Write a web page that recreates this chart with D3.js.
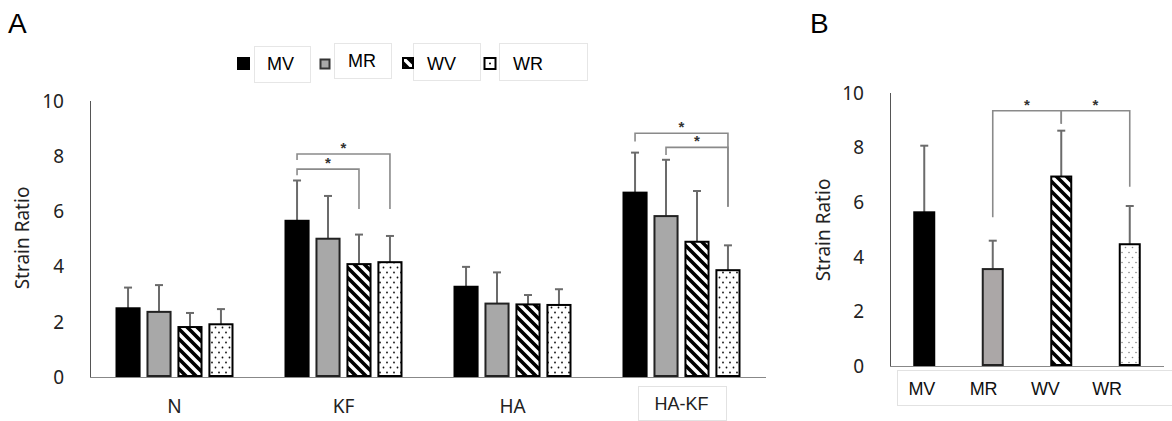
<!DOCTYPE html>
<html>
<head>
<meta charset="utf-8">
<script src="https://cdn.jsdelivr.net/npm/d3@7"></script>
<style>
  body { margin: 0; background: #ffffff; }
  svg { display: block; }
</style>
</head>
<body>
<div id="chart"></div>
<script>
// ---- data ----
const categories = ['N', 'KF', 'HA', 'HA-KF'];
const series = ['MV', 'MR', 'WV', 'WR'];

// panel A: mean strain ratio per category
const meanMV = [2.49, 5.66, 3.27, 6.68];
const meanMR = [2.36, 5.01, 2.66, 5.83];
const meanWV = [1.81, 4.09, 2.63, 4.90];
const meanWR = [1.91, 4.16, 2.61, 3.87];
// panel A: upper error (SD)
const sdMV = [0.75, 1.46, 0.72, 1.45];
const sdMR = [0.97, 1.55, 1.13, 2.04];
const sdWV = [0.51, 1.07, 0.34, 1.84];
const sdWR = [0.55, 0.95, 0.57, 0.90];

// panel B
const meanB = [5.63, 3.55, 6.94, 4.46];
const sdB = [2.44, 1.04, 1.68, 1.40];

const yTicks = [0, 2, 4, 6, 8, 10];

// significance brackets: top / leg ends in strain-ratio units
const sigA = [
  { cat: 'KF', a: 'MV', b: 'WR', top: 8.08, aEnd: 7.86, bEnd: 6.09 },
  { cat: 'KF', a: 'MV', b: 'WV', top: 7.53, aEnd: 7.31, bEnd: 6.09 },
  { cat: 'HA-KF', a: 'MV', b: 'WR', top: 8.83, aEnd: 8.53, bEnd: 6.17 },
  { cat: 'HA-KF', a: 'MR', b: 'WR', top: 8.32, aEnd: 8.04, bEnd: 6.17 }
];
const sigB = [
  { a: 'MR', b: 'WV', top: 9.35, aEnd: 5.45, bEnd: 8.87 },
  { a: 'WV', b: 'WR', top: 9.35, aEnd: 8.87, bEnd: 6.57 }
];

const meansA = [meanMV, meanMR, meanWV, meanWR];
const sdsA = [sdMV, sdMR, sdWV, sdWR];

// ---- setup ----
const W = 1172, H = 421;
const tickFont = '"Noto Sans", sans-serif';
const labelFont = '"Liberation Sans", Arial, sans-serif';

const svg = d3.select('#chart')
  .append('svg')
    .attr('width', W)
    .attr('height', H);

const defs = svg.append('defs');

// diagonal hatch (top-left to bottom-right)
const hatch = defs.append('pattern')
  .attr('id', 'hatch')
  .attr('patternUnits', 'userSpaceOnUse')
  .attr('width', 10)
  .attr('height', 10);
hatch.append('rect').attr('width', 10).attr('height', 10).attr('fill', '#fff');
hatch.append('path')
  .attr('d', 'M-5,5 L5,15 M0,0 L10,10 M5,-5 L15,5')
  .attr('stroke', '#000')
  .attr('stroke-width', 3.6);

// staggered dots
function dotPattern(id, color, r) {
  const p = defs.append('pattern')
    .attr('id', id)
    .attr('patternUnits', 'userSpaceOnUse')
    .attr('width', 7)
    .attr('height', 10);
  p.append('rect').attr('width', 7).attr('height', 10).attr('fill', '#fff');
  p.append('circle').attr('cx', 2).attr('cy', 2.5).attr('r', r).attr('fill', color);
  p.append('circle').attr('cx', 5.5).attr('cy', 7.5).attr('r', r).attr('fill', color);
}
dotPattern('dots', '#111', 0.9);
dotPattern('dotsB', '#888', 0.8);

const fillA = { MV: '#000000', MR: '#a8a8a8', WV: 'url(#hatch)', WR: 'url(#dots)' };
const fillB = { MV: '#000000', MR: '#aba7a7', WV: 'url(#hatch)', WR: 'url(#dotsB)' };
const strokeOf = { MV: '#000', MR: '#222', WV: '#000', WR: '#000' };

// ---- panel A ----
const yA = d3.scaleLinear().domain([0, 10]).range([377, 101]);
const xGroup = d3.scaleBand().domain(categories).range([90, 766]);
const xSub = d3.scaleBand().domain(series).range([-59, 59]).paddingInner(0.19);
const barX = (cat, s) => xGroup(cat) + xGroup.bandwidth() / 2 + xSub(s);
const barMid = (cat, s) => barX(cat, s) + xSub.bandwidth() / 2;

svg.append('text')
  .attr('x', 8).attr('y', 33)
  .style('font-family', labelFont)
  .style('font-size', '28px')
  .text('A');

// y axis line + tick labels (no tick marks)
svg.append('line')
  .attr('x1', 90.5).attr('x2', 90.5)
  .attr('y1', yA(10)).attr('y2', yA(0))
  .attr('stroke', '#555').attr('stroke-width', 1);

svg.append('g')
  .selectAll('text')
  .data(yTicks)
  .enter()
  .append('text')
    .attr('x', 64)
    .attr('y', d => yA(d))
    .attr('dy', '0.36em')
    .attr('text-anchor', 'end')
    .style('font-family', tickFont)
    .style('font-size', '19px')
    .style('fill', '#222')
    .text(d => d);

svg.append('text')
  .attr('transform', 'translate(29,238) rotate(-90)')
  .attr('text-anchor', 'middle')
  .style('font-family', tickFont)
  .style('font-size', '19px')
  .style('fill', '#222')
  .text('Strain Ratio');

// bars
const rowsA = [];
categories.forEach((cat, ci) => {
  series.forEach((s, si) => {
    rowsA.push({ cat: cat, s: s, mean: meansA[si][ci], sd: sdsA[si][ci] });
  });
});

// error bars (drawn under bars)
const errA = svg.append('g')
  .selectAll('g')
  .data(rowsA)
  .enter()
  .append('g')
    .attr('stroke', '#6b6b6b')
    .attr('stroke-width', 2);
errA.append('line')
  .attr('x1', d => barMid(d.cat, d.s)).attr('x2', d => barMid(d.cat, d.s))
  .attr('y1', d => yA(d.mean)).attr('y2', d => yA(d.mean + d.sd));
errA.append('line')
  .attr('x1', d => barMid(d.cat, d.s) - 4).attr('x2', d => barMid(d.cat, d.s) + 4)
  .attr('y1', d => yA(d.mean + d.sd)).attr('y2', d => yA(d.mean + d.sd));

svg.append('g')
  .selectAll('rect')
  .data(rowsA)
  .enter()
  .append('rect')
    .attr('x', d => barX(d.cat, d.s) + 1)
    .attr('y', d => yA(d.mean))
    .attr('width', xSub.bandwidth() - 2)
    .attr('height', d => yA(0) - yA(d.mean) - 1)
    .attr('fill', d => fillA[d.s])
    .attr('stroke', d => strokeOf[d.s])
    .attr('stroke-width', 2);

// baseline
svg.append('line')
  .attr('x1', 90).attr('x2', 766)
  .attr('y1', yA(0) + 0.5).attr('y2', yA(0) + 0.5)
  .attr('stroke', '#888').attr('stroke-width', 1.2);

// category labels
svg.append('g')
  .selectAll('text')
  .data(categories)
  .enter()
  .append('text')
    .attr('x', d => xGroup(d) + xGroup.bandwidth() / 2)
    .attr('y', d => d === 'HA-KF' ? 410 : 413)
    .attr('text-anchor', 'middle')
    .style('font-family', d => d === 'HA-KF' ? labelFont : tickFont)
    .style('font-size', d => d === 'HA-KF' ? '18px' : '19px')
    .style('fill', '#222')
    .text(d => d);

// text box round HA-KF
svg.append('rect')
  .attr('x', xGroup('HA-KF') + xGroup.bandwidth() / 2 - 43)
  .attr('y', 386.5)
  .attr('width', 88)
  .attr('height', 34)
  .attr('fill', 'none')
  .attr('stroke', '#e2e2e2');

// significance brackets A
function bracketPath(xa, xb, yTop, ya, yb) {
  return `M${xa},${ya} L${xa},${yTop} L${xb},${yTop} L${xb},${yb}`;
}
const sigGA = svg.append('g');
sigGA.selectAll('path')
  .data(sigA)
  .enter()
  .append('path')
    .attr('d', d => bracketPath(barMid(d.cat, d.a), barMid(d.cat, d.b),
                                yA(d.top), yA(d.aEnd), yA(d.bEnd)))
    .attr('fill', 'none')
    .attr('stroke', '#8a8a8a')
    .attr('stroke-width', 1.6);
sigGA.selectAll('text')
  .data(sigA)
  .enter()
  .append('text')
    .attr('x', d => (barMid(d.cat, d.a) + barMid(d.cat, d.b)) / 2)
    .attr('y', d => yA(d.top) - 1)
    .attr('text-anchor', 'middle')
    .style('font-family', labelFont)
    .style('font-size', '15px')
    .style('font-weight', 'bold')
    .style('fill', '#333')
    .text('*');

// legend (positions follow the figure's text boxes)
const legendLayout = [
  { sx: 237, sy: 57, ss: 13, bx: 254, by: 46, bw: 56, bh: 36, tx: 267, ty: 70 },
  { sx: 319.5, sy: 58.5, ss: 11, bx: 334, by: 43, bw: 57, bh: 35, tx: 348, ty: 67 },
  { sx: 402, sy: 57, ss: 12, bx: 413, by: 43, bw: 67, bh: 37, tx: 427, ty: 70 },
  { sx: 483.5, sy: 57, ss: 13, bx: 499, by: 43, bw: 88, bh: 37, tx: 513, ty: 70 }
];
const legend = svg.append('g')
  .selectAll('g')
  .data(series)
  .enter()
  .append('g');
legend.append('rect')
  .attr('x', (d, i) => legendLayout[i].bx + 0.5)
  .attr('y', (d, i) => legendLayout[i].by + 0.5)
  .attr('width', (d, i) => legendLayout[i].bw)
  .attr('height', (d, i) => legendLayout[i].bh)
  .attr('fill', '#fff')
  .attr('stroke', '#e6e6e6');
legend.append('rect')
  .attr('x', (d, i) => legendLayout[i].sx + 1)
  .attr('y', (d, i) => legendLayout[i].sy + 1)
  .attr('width', (d, i) => legendLayout[i].ss - 2)
  .attr('height', (d, i) => legendLayout[i].ss - 2)
  .attr('fill', d => d === 'WR' ? '#fff' : fillA[d])
  .attr('stroke', d => d === 'MR' ? '#333' : '#000')
  .attr('stroke-width', 2);
legend.filter(d => d === 'WR')
  .append('circle')
    .attr('cx', legendLayout[3].sx + 6.5)
    .attr('cy', legendLayout[3].sy + 6.5)
    .attr('r', 1)
    .attr('fill', '#000');
legend.append('text')
  .attr('x', (d, i) => legendLayout[i].tx)
  .attr('y', (d, i) => legendLayout[i].ty)
  .style('font-family', labelFont)
  .style('font-size', '18px')
  .style('fill', '#000')
  .text(d => d);

// ---- panel B ----
const yB = d3.scaleLinear().domain([0, 10]).range([366, 93]);
const xB = d3.scaleBand().domain(series).range([890, 1164]);
const xBLabel = d3.scaleBand().domain(series).range([891, 1138]);
const bw = 22;
const midB = s => xB(s) + xB.bandwidth() / 2;

svg.append('text')
  .attr('x', 810).attr('y', 33)
  .style('font-family', labelFont)
  .style('font-size', '28px')
  .text('B');

svg.append('line')
  .attr('x1', 890.5).attr('x2', 890.5)
  .attr('y1', yB(10)).attr('y2', yB(0))
  .attr('stroke', '#555').attr('stroke-width', 1);

svg.append('g')
  .selectAll('text')
  .data(yTicks)
  .enter()
  .append('text')
    .attr('x', 864)
    .attr('y', d => yB(d))
    .attr('dy', '0.36em')
    .attr('text-anchor', 'end')
    .style('font-family', tickFont)
    .style('font-size', '19px')
    .style('fill', '#222')
    .text(d => d);

svg.append('text')
  .attr('transform', 'translate(830,230) rotate(-90)')
  .attr('text-anchor', 'middle')
  .style('font-family', tickFont)
  .style('font-size', '19px')
  .style('fill', '#222')
  .text('Strain Ratio');

const rowsB = series.map((s, i) => ({ s: s, mean: meanB[i], sd: sdB[i] }));

const errB = svg.append('g')
  .selectAll('g')
  .data(rowsB)
  .enter()
  .append('g')
    .attr('stroke', '#6b6b6b')
    .attr('stroke-width', 2);
errB.append('line')
  .attr('x1', d => midB(d.s)).attr('x2', d => midB(d.s))
  .attr('y1', d => yB(d.mean)).attr('y2', d => yB(d.mean + d.sd));
errB.append('line')
  .attr('x1', d => midB(d.s) - 4).attr('x2', d => midB(d.s) + 4)
  .attr('y1', d => yB(d.mean + d.sd)).attr('y2', d => yB(d.mean + d.sd));

svg.append('g')
  .selectAll('rect')
  .data(rowsB)
  .enter()
  .append('rect')
    .attr('x', d => midB(d.s) - bw / 2 + 1)
    .attr('y', d => yB(d.mean))
    .attr('width', bw - 2)
    .attr('height', d => yB(0) - yB(d.mean) - 1)
    .attr('fill', d => fillB[d.s])
    .attr('stroke', d => strokeOf[d.s])
    .attr('stroke-width', 2);

svg.append('line')
  .attr('x1', 890).attr('x2', 1164)
  .attr('y1', yB(0) + 0.5).attr('y2', yB(0) + 0.5)
  .attr('stroke', '#888').attr('stroke-width', 1.2);

// label box and labels
svg.append('rect')
  .attr('x', 897.5).attr('y', 370.5)
  .attr('width', 290).attr('height', 35)
  .attr('fill', 'none')
  .attr('stroke', '#e2e2e2');

svg.append('g')
  .selectAll('text')
  .data(series)
  .enter()
  .append('text')
    .attr('x', d => xBLabel(d) + xBLabel.bandwidth() / 2)
    .attr('y', 395)
    .attr('text-anchor', 'middle')
    .style('font-family', labelFont)
    .style('font-size', '18px')
    .style('fill', '#111')
    .text(d => d);

const sigGB = svg.append('g');
sigGB.selectAll('path')
  .data(sigB)
  .enter()
  .append('path')
    .attr('d', d => bracketPath(midB(d.a), midB(d.b), yB(d.top), yB(d.aEnd), yB(d.bEnd)))
    .attr('fill', 'none')
    .attr('stroke', '#8a8a8a')
    .attr('stroke-width', 1.6);
sigGB.selectAll('text')
  .data(sigB)
  .enter()
  .append('text')
    .attr('x', d => (midB(d.a) + midB(d.b)) / 2)
    .attr('y', d => yB(d.top) - 1)
    .attr('text-anchor', 'middle')
    .style('font-family', labelFont)
    .style('font-size', '15px')
    .style('font-weight', 'bold')
    .style('fill', '#333')
    .text('*');
</script>
</body>
</html>
